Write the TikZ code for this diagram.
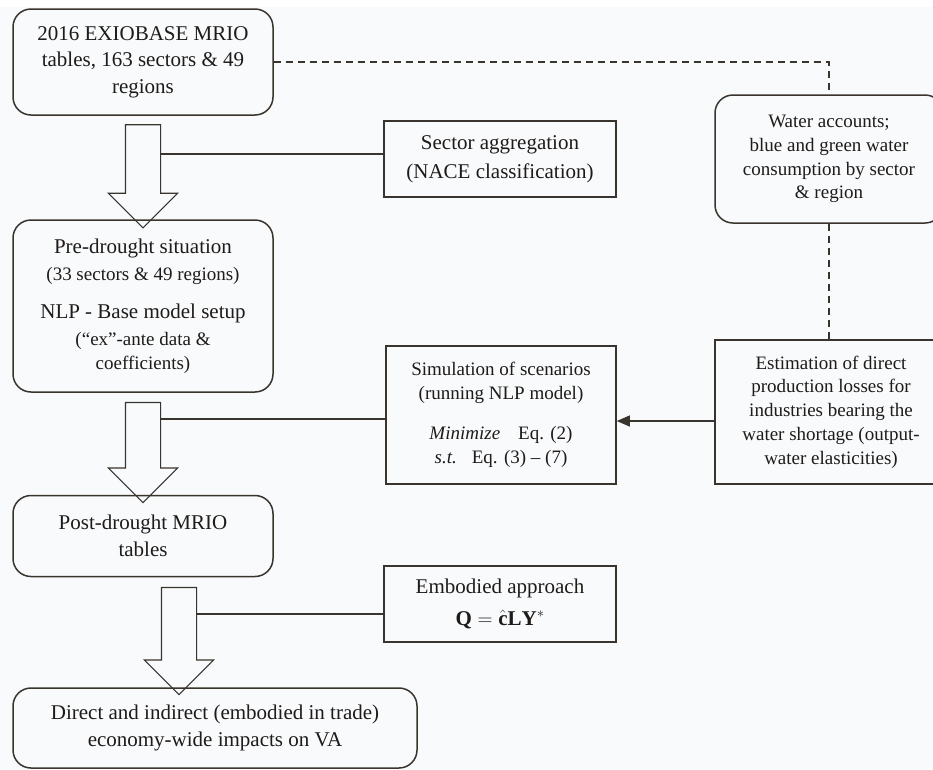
\documentclass[tikz,border=0pt]{standalone}
\usepackage{fontspec}
\setmainfont{Liberation Serif}
\usepackage{tikz}
\usetikzlibrary{shapes.arrows,calc,arrows.meta}
\definecolor{linecol}{RGB}{58,52,46}
\definecolor{txtcol}{RGB}{30,27,24}
\definecolor{bgcol}{RGB}{248,250,252}
\newcommand{\subtxt}{\fontsize{19}{23.8}\selectfont}

\begin{document}
\begin{tikzpicture}[x=1pt,y=-1pt,
box/.style={draw=linecol,line width=1.5pt,text=txtcol,align=center,inner sep=0pt,font=\fontsize{21}{26.7}\selectfont},
rbox/.style={box,rounded corners=18pt},
sbox/.style={font=\subtxt},
fatarrow/.style={single arrow,draw=linecol,line width=1.1pt,rotate=-90,inner xsep=0pt,inner ysep=17pt,minimum width=68pt,single arrow head extend=17pt,single arrow tip angle=90},
link/.style={draw=linecol,line width=1.2pt},
dashlink/.style={link,line width=1.4pt,dash pattern=on 7pt off 5pt}]
\useasboundingbox (0,0) rectangle (933,769);
\clip (0,0) rectangle (933,769);
\fill[white] (0,0) rectangle (933,769);
\fill[bgcol] (0,7) rectangle (933,769);
\node[rbox,minimum width=260pt,minimum height=106pt] (mrio) at (143,62) {2016 EXIOBASE MRIO\\ tables, 163 sectors \& 49\\ regions};
\node[box,minimum width=232pt,minimum height=76pt] (nace) at (500,159) {Sector aggregation\\[2pt] (NACE classification)};
\node[rbox,minimum width=260pt,minimum height=172pt] (pre) at (143,306) {Pre-drought situation\\ {\subtxt (33 sectors \& 49 regions)}\\[12pt] NLP - Base model setup\\ {\subtxt (“ex”-ante data \&}\\[-3pt] {\subtxt coefficients)}};
\node[box,sbox,minimum width=230pt,minimum height=138pt] (sim) at (501,415) {Simulation of scenarios\\ (running NLP model)\\[16pt] \textit{Minimize}\hspace{18pt}Eq. (2)\\ \textit{s.t.}\hspace{15pt}Eq. (3) – (7)};
\node[rbox,sbox,minimum width=228pt,minimum height=128pt] (water) at (829,159) {Water accounts;\\ blue and green water\\ consumption by sector\\ \& region};
\node[box,sbox,minimum width=232pt,minimum height=144pt] (loss) at (831,412) {Estimation of direct\\ production losses for\\ industries bearing the\\ water shortage (output-\\ water elasticities)};
\node[rbox,minimum width=260pt,minimum height=81pt] (post) at (143,536) {Post-drought MRIO\\ tables};
\node[box,minimum width=232pt,minimum height=76pt] (emb) at (500,604) {Embodied approach\\[5pt] $\mathbf{Q}=\hat{\mathbf{c}}\mathbf{LY}^{*}$};
\node[rbox,minimum width=404pt,minimum height=80pt] (va) at (215,728) {Direct and indirect (embodied in trade)\\ economy-wide impacts on VA};
\node[fatarrow,minimum height=103pt] (a1) at ($(mrio.south)!.5!(pre.north)$) {};
\node[fatarrow,minimum height=100pt] (a2) at ($(pre.south)!.5!(post.north)$) {};
\node[fatarrow,minimum height=107pt] (a3) at ($(post.south)!.5!(va.north)$) {};
\coordinate (l1) at ([yshift=5pt]nace.west);
\coordinate (l2) at ([yshift=-4pt]sim.west);
\coordinate (l3) at ([yshift=-10pt]emb.west);
\coordinate (l4) at ([yshift=-9pt]loss.west);
\draw[link] (l1) -- ([xshift=17pt]a1.center |- l1);
\draw[link] (l2) -- ([xshift=17pt]a2.center |- l2);
\draw[link] (l3) -- ([xshift=17pt]a3.center |- l3);
\draw[link,-{Triangle[length=13pt,width=11pt]}] (l4) -- (l4 -| sim.east);
\draw[dashlink] (mrio.east) -| (water.north);
\draw[dashlink] (water.south) -- (water.south |- loss.north);
\end{tikzpicture}
\end{document}
